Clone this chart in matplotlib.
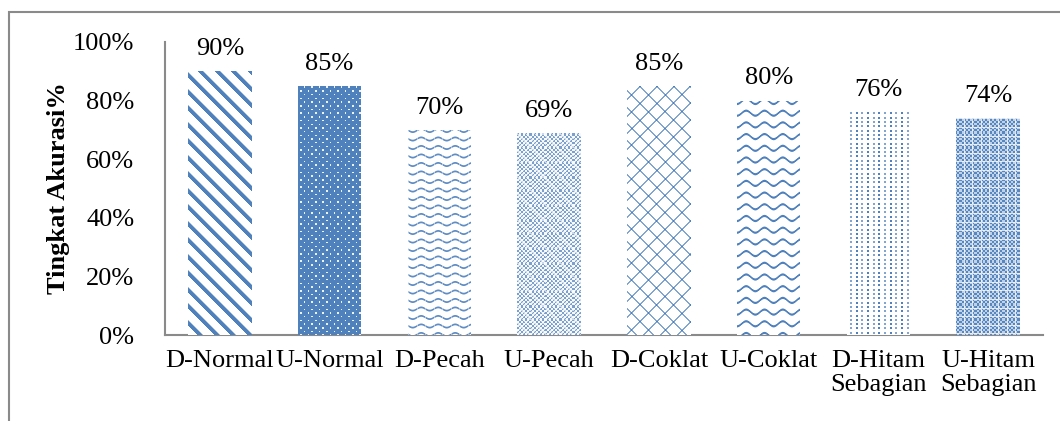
import numpy as np
import matplotlib
matplotlib.use("Agg")
import matplotlib.pyplot as plt
from matplotlib.ticker import PercentFormatter
from matplotlib.patches import Rectangle

plt.rcParams['font.family'] = ['Liberation Serif', 'DejaVu Serif']

kategori = ['D-Normal', 'U-Normal', 'D-Pecah', 'U-Pecah', 'D-Coklat',
            'U-Coklat', 'D-Hitam\nSebagian', 'U-Hitam\nSebagian']
akurasi = [0.90, 0.85, 0.70, 0.69, 0.85, 0.80, 0.76, 0.74]
pola = ['stripe', 'dots_solid', 'wave_small', 'checker_light', 'diamond',
        'wave_big', 'dot_grid', 'checker_dense']

BIRU = np.array([79, 129, 189]) / 255.0
FS = 19


# pola arsiran, X dan Y koordinat piksel, hasil intensitas 0..1
def pattern(name, X, Y):
    if name == 'stripe':
        d = (X - Y) % 16.5
        return np.where(d < 5, 1.0, np.where(d < 6, 0.5, 0.0))
    if name == 'dots_solid':
        p = 7.4
        h1 = ((X % p) < 1.5) & ((Y % p) < 1.5)
        h2 = (((X + p / 2) % p) < 1.5) & (((Y + p / 2) % p) < 1.5)
        return 1.0 - 0.9 * (h1 | h2)
    if name == 'wave_small':
        yc = 1.6 * np.sin(2 * np.pi * X / 17.0)
        py = 8.5
        d = ((Y - yc + py / 2) % py) - py / 2
        a = np.clip(1.4 - np.abs(d), 0, 1) * 0.9
        gap = (X % 8.5) < 0.8
        return np.where(gap, a * 0.55, a)
    if name == 'wave_big':
        yc = 2.5 * np.sin(2 * np.pi * X / 18.3)
        py = 11.7
        d = ((Y - yc + py / 2) % py) - py / 2
        return np.clip(1.6 - np.abs(d), 0, 1)
    if name == 'checker_light':
        c = (np.floor(X / 2.15) + np.floor(Y / 2.15)) % 2
        a = np.where(c == 0, 0.75, 0.05)
        g = (((X + Y) % 8.6) < 1.3) | (((X - Y) % 8.6) < 1.3)
        return np.where(g, a * 0.4, a)
    if name == 'checker_dense':
        c = (np.floor(X / 2.15) + np.floor(Y / 2.15)) % 2
        a = np.where(c == 0, 0.95, 0.35)
        g = ((X % 8.6) < 1.0) | ((Y % 8.6) < 1.0)
        return np.where(g, a * 0.25, a)
    if name == 'diamond':
        p = 16.8
        l1 = ((X + Y) % p) < 2.0
        l2 = ((X - Y) % p) < 2.0
        return np.where(l1 & l2, 1.0, np.where(l1 | l2, 0.7, 0.0))
    if name == 'dot_grid':
        px, py = 5.7, 4.3
        on = ((X % px) < 2.0) & ((Y % py) < 2.0)
        col = np.floor(X / px) % 2
        return np.where(on, np.where(col == 0, 1.0, 0.7), 0.0)
    return np.ones_like(X)


fig = plt.figure(figsize=(10.6, 4.21), dpi=100)
ax = fig.add_axes([165 / 1060, 1 - 335 / 421, 878 / 1060, 293 / 421])

x = np.arange(len(kategori))
bars = ax.bar(x, akurasi, width=0.58, color='white', edgecolor='none', zorder=1)

ax.set_xlim(-0.5, len(kategori) - 0.5)
ax.set_ylim(0, 1.0)

# isi batang dengan tekstur piksel, ditempel langsung pada kanvas
for b, nm in zip(bars, pola):
    x0, w, h = b.get_x(), b.get_width(), b.get_height()
    (p0x, p0y), (p1x, p1y) = ax.transData.transform([(x0, 0), (x0 + w, h)])
    ix0, iy0 = int(round(p0x)), int(round(p0y))
    W = int(round(p1x)) - ix0
    H = int(round(p1y)) - iy0
    X, Y = np.meshgrid(np.arange(W) + ix0, np.arange(H))
    a = pattern(nm, X.astype(float), Y.astype(float))[..., None]
    rgb = (1 - a) * 1.0 + a * BIRU
    fig.figimage(rgb, xo=ix0, yo=iy0, origin='upper', zorder=3)
    ax.annotate(f'{h:.0%}', (x0 + w / 2, h), xytext=(0, 8),
                textcoords='offset points', ha='center', va='bottom',
                fontsize=FS)

ax.set_xticks(x)
ax.set_xticklabels(kategori, fontsize=FS, linespacing=1.1)
ax.yaxis.set_major_formatter(PercentFormatter(1.0, decimals=0))
ax.set_yticks(np.arange(0, 1.01, 0.2))
ax.tick_params(axis='y', length=0, pad=22, labelsize=FS)
ax.tick_params(axis='x', length=0, pad=11)

ax.set_ylabel('Tingkat Akurasi%', fontsize=FS, fontweight='bold')
ax.yaxis.set_label_coords(-0.108, 0.5)

for s in ['top', 'right']:
    ax.spines[s].set_visible(False)
for s in ['left', 'bottom']:
    ax.spines[s].set_color('#8a8a8a')
    ax.spines[s].set_linewidth(1.5)
    ax.spines[s].set_zorder(4)

# bingkai luar
fig.patches.append(Rectangle((9 / 1060, -0.2), 1.2, 0.2 + 1 - 12 / 421,
                             transform=fig.transFigure, fill=False,
                             edgecolor='#8a8a8a', linewidth=1.5, clip_on=False))

fig.savefig('out.png', dpi=100)
